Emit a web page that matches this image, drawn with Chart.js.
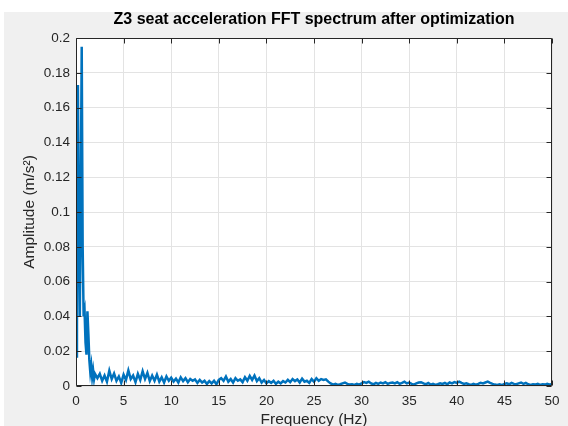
<!DOCTYPE html>
<html>
<head>
<meta charset="utf-8">
<script src="https://cdn.jsdelivr.net/npm/chart.js@4/dist/chart.umd.min.js"></script>
<style>
  html, body { margin: 0; padding: 0; background: #ffffff; }
  #wrap { width: 568px; height: 426px; }
</style>
</head>
<body>
<div id="wrap"><canvas id="fft_chart" width="568" height="426"></canvas></div>
<script>
const titleText = "Z3 seat acceleration FFT spectrum after optimization";
const xLabel = "Frequency (Hz)";
const yLabel = "Amplitude (m/s\u00B2)";

const xTicks = [0, 5, 10, 15, 20, 25, 30, 35, 40, 45, 50];
const yTicks = [0, 0.02, 0.04, 0.06, 0.08, 0.1, 0.12, 0.14, 0.16, 0.18, 0.2];

// 0 - 2 Hz, 0.1 Hz bins
const lowFreqs = [0, 0.1, 0.2, 0.3, 0.4, 0.5, 0.6, 0.7, 0.8, 0.9, 1.0,
  1.1, 1.2, 1.3, 1.4, 1.5, 1.6, 1.7, 1.8, 1.9, 2.0];
const lowAmps = [0.017, 0.060, 0.173, 0.090, 0.040, 0.110, 0.195, 0.080, 0.040, 0.043, 0.025,
  0.018, 0.043, 0.030, 0.015, 0.008, 0.012, 0.005, 0.009, 0.004, 0.007];

// 2.25 - 50 Hz, 0.25 Hz bins (four per Hz)
const highStart = 2.25;
const highStep = 0.25;
const highAmps = [
  0.0045, 0.0070, 0.0030, 0.0060,
  0.0025, 0.0088, 0.0040, 0.0072,
  0.0030, 0.0055, 0.0018, 0.0065,
  0.0035, 0.0090, 0.0040, 0.0060,
  0.0022, 0.0070, 0.0035, 0.0085,
  0.0040, 0.0075, 0.0028, 0.0060,
  0.0030, 0.0065, 0.0025, 0.0050,
  0.0020, 0.0055, 0.0030, 0.0048,
  0.0025, 0.0042, 0.0020, 0.0050,
  0.0028, 0.0045, 0.0022, 0.0040,
  0.0030, 0.0038, 0.0018, 0.0035,
  0.0020, 0.0030, 0.0012, 0.0028,
  0.0015, 0.0030, 0.0010, 0.0035,
  0.0045, 0.0030, 0.0055, 0.0025,
  0.0040, 0.0020, 0.0045, 0.0030,
  0.0038, 0.0022, 0.0050, 0.0030,
  0.0058, 0.0035, 0.0060, 0.0028,
  0.0045, 0.0020, 0.0035, 0.0015,
  0.0028, 0.0018, 0.0030, 0.0012,
  0.0025, 0.0015, 0.0028, 0.0020,
  0.0035, 0.0022, 0.0040, 0.0028,
  0.0038, 0.0020, 0.0042, 0.0025,
  0.0030, 0.0018, 0.0040, 0.0025,
  0.0045, 0.0030, 0.0040, 0.0035,
  0.0038, 0.0025, 0.0015, 0.0008,
  0.0012, 0.0006, 0.0010, 0.0015,
  0.0020, 0.0012, 0.0008, 0.0010,
  0.0006, 0.0012, 0.0008, 0.0015,
  0.0022, 0.0018, 0.0025, 0.0015,
  0.0010, 0.0018, 0.0012, 0.0020,
  0.0015, 0.0022, 0.0012, 0.0018,
  0.0020, 0.0015, 0.0022, 0.0012,
  0.0018, 0.0025, 0.0015, 0.0020,
  0.0012, 0.0008, 0.0015, 0.0020,
  0.0022, 0.0015, 0.0010, 0.0018,
  0.0008, 0.0012, 0.0006, 0.0010,
  0.0015, 0.0012, 0.0018, 0.0010,
  0.0020, 0.0015, 0.0022, 0.0018,
  0.0025, 0.0018, 0.0012, 0.0015,
  0.0010, 0.0006, 0.0012, 0.0008,
  0.0012, 0.0018, 0.0015, 0.0020,
  0.0025, 0.0018, 0.0012, 0.0008,
  0.0006, 0.0010, 0.0005, 0.0012,
  0.0015, 0.0010, 0.0018, 0.0012,
  0.0010, 0.0015, 0.0020, 0.0012,
  0.0018, 0.0010, 0.0006, 0.0010,
  0.0008, 0.0012, 0.0006, 0.0010,
  0.0008, 0.0012, 0.0008, 0.0010
];

const points = lowFreqs.map((f, i) => ({ x: f, y: lowAmps[i] }));
highAmps.forEach((a, i) => points.push({ x: +(highStart + i * highStep).toFixed(2), y: a }));

const FONT = "'Liberation Sans', Arial, sans-serif";
const AXIS_COL = "#262626";

// matlab-ish figure: grey figure bg, white axes, box with inward ticks
const figurePlugin = {
  id: "figure",
  beforeDraw(chart) {
    const { ctx, chartArea: a } = chart;
    ctx.save();
    ctx.fillStyle = "#f0f0f0";
    ctx.fillRect(4, 12, chart.width - 4, chart.height - 12);
    ctx.fillStyle = "#ffffff";
    ctx.fillRect(a.left, a.top, a.right - a.left, a.bottom - a.top);
    ctx.restore();
  },
  afterLayout(chart) {
    // centre the title over the axes, not the whole canvas
    const a = chart.chartArea;
    if (chart.titleBlock) {
      chart.titleBlock.left = a.left;
      chart.titleBlock.right = a.right;
    }
  },
  afterDraw(chart) {
    const { ctx, chartArea: a, scales } = chart;
    const L = Math.round(a.left) + 0.5, R = Math.round(a.right) - 0.5;
    const T = Math.round(a.top) + 0.5, B = Math.round(a.bottom) - 0.5;
    ctx.save();
    ctx.strokeStyle = AXIS_COL;
    ctx.lineWidth = 1;
    ctx.beginPath();
    ctx.rect(L, T, R - L, B - T);
    const tl = 5;
    xTicks.forEach(v => {
      const px = Math.round(scales.x.getPixelForValue(v)) + 0.5;
      ctx.moveTo(px, B); ctx.lineTo(px, B - tl);
      ctx.moveTo(px, T); ctx.lineTo(px, T + tl);
    });
    yTicks.forEach(v => {
      const py = Math.round(scales.y.getPixelForValue(v)) + 0.5;
      ctx.moveTo(L, py); ctx.lineTo(L + tl, py);
      ctx.moveTo(R, py); ctx.lineTo(R - tl, py);
    });
    ctx.stroke();
    ctx.restore();
  }
};

new Chart(document.getElementById("fft_chart"), {
  type: "line",
  data: {
    datasets: [{
      data: points,
      borderColor: "#0072BD",
      borderWidth: 2.5,
      pointRadius: 0,
      tension: 0,
      fill: false
    }]
  },
  options: {
    responsive: false,
    animation: false,
    devicePixelRatio: 1,
    layout: { padding: { top: 0, right: 16, bottom: 0, left: 0 } },
    plugins: {
      legend: { display: false },
      tooltip: { enabled: false },
      title: {
        display: true,
        text: titleText,
        color: "#000000",
        font: { family: FONT, size: 16, weight: "bold" },
        padding: { top: 10.4, bottom: 8.4 }
      }
    },
    scales: {
      x: {
        type: "linear",
        min: 0,
        max: 50,
        afterBuildTicks: s => { s.ticks = xTicks.map(v => ({ value: v })); },
        afterFit: s => { s.height = 40; },
        ticks: {
          color: AXIS_COL,
          font: { family: FONT, size: 13.5 },
          padding: 7,
          maxRotation: 0,
          callback: v => String(v)
        },
        grid: { color: "#e3e3e3", drawTicks: false },
        border: { display: false },
        title: {
          display: true,
          text: xLabel,
          color: AXIS_COL,
          font: { family: FONT, size: 15.5 },
          padding: { top: 0, bottom: -3.3 }
        }
      },
      y: {
        type: "linear",
        min: 0,
        max: 0.2,
        afterBuildTicks: s => { s.ticks = yTicks.map(v => ({ value: v })); },
        afterFit: s => { s.width = 76; },
        ticks: {
          color: AXIS_COL,
          font: { family: FONT, size: 13.5 },
          padding: 6,
          callback: v => String(+v.toFixed(2))
        },
        grid: { color: "#e3e3e3", drawTicks: false },
        border: { display: false },
        title: {
          display: true,
          text: yLabel,
          color: AXIS_COL,
          font: { family: FONT, size: 15.5 },
          padding: { top: 20, bottom: 0 }
        }
      }
    }
  },
  plugins: [figurePlugin]
});
</script>
</body>
</html>
